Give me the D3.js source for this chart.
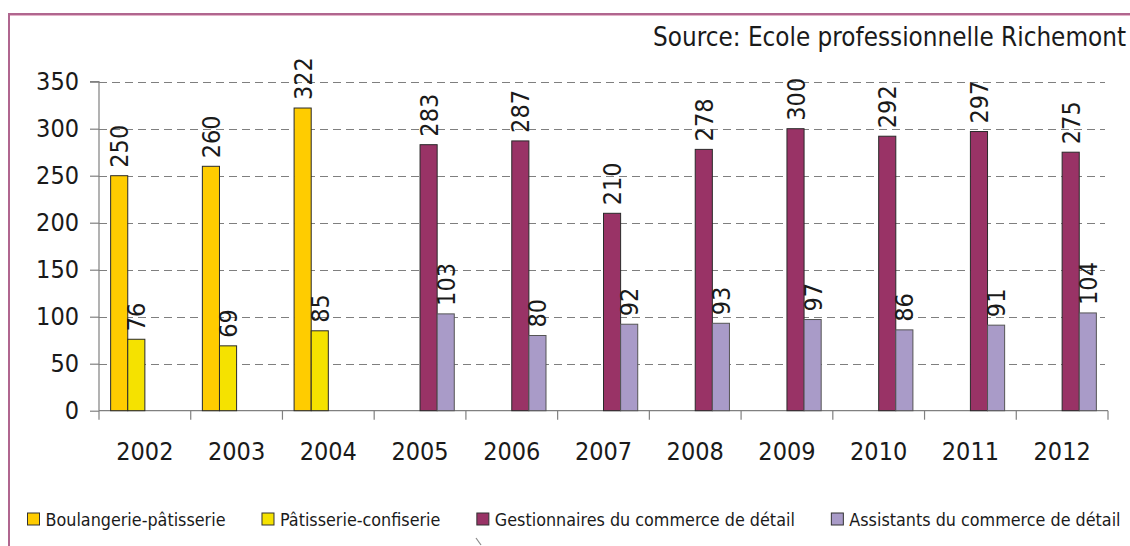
<!DOCTYPE html>
<html>
<head>
<meta charset="utf-8">
<script src="https://cdn.jsdelivr.net/npm/d3@7/dist/d3.min.js"></script>
<style>
  html, body { margin: 0; padding: 0; background: #fff; }
  svg { display: block; }
  text { font-family: "DejaVu Sans Condensed", "DejaVu Sans", sans-serif; font-stretch: condensed; fill: #1a1a1a; }
</style>
</head>
<body>
<svg id="chart" width="1130" height="546"></svg>
<script>
const years = ["2002","2003","2004","2005","2006","2007","2008","2009","2010","2011","2012"];
const seriesNames = ["Boulangerie-pâtisserie","Pâtisserie-confiserie","Gestionnaires du commerce de détail","Assistants du commerce de détail"];
const boulangerie   = [250, 260, 322, null, null, null, null, null, null, null, null];
const patisserie    = [76, 69, 85, null, null, null, null, null, null, null, null];
const gestionnaires = [null, null, null, 283, 287, 210, 278, 300, 292, 297, 275];
const assistants    = [null, null, null, 103, 80, 92, 93, 97, 86, 91, 104];
const yTicks = [0, 50, 100, 150, 200, 250, 300, 350];
const colors = ["#FFCC00", "#F5E200", "#993366", "#A99BC8"];
const sourceText = "Source: Ecole professionnelle Richemont";

const seriesValues = [boulangerie, patisserie, gestionnaires, assistants];

const svg = d3.select("#chart");

// frame
svg.append("rect").attr("x", 9).attr("y", 14).attr("width", 1400).attr("height", 800)
  .attr("fill", "none").attr("stroke", "#b0668f").attr("stroke-width", 2);
svg.append("line").attr("x1", 10).attr("x2", 1130).attr("y1", 15.5).attr("y2", 15.5)
  .attr("stroke", "#e3b3c8").attr("stroke-width", 1);

const plot = { left: 99, right: 1108, top: 81.7, bottom: 410.7 };

const x0 = d3.scaleBand().domain(years).range([plot.left, plot.right]).padding(0);
const x1 = d3.scaleBand().domain(d3.range(4)).range([0, x0.bandwidth()]).paddingInner(0).paddingOuter(0.68);
const y = d3.scaleLinear().domain([0, 350]).range([plot.bottom, plot.top]);

// gridlines
svg.append("g")
  .selectAll("line").data(yTicks.filter(t => t > 0)).join("line")
  .attr("x1", plot.left).attr("x2", plot.right - 3)
  .attr("y1", d => Math.round(y(d)) + 0.5).attr("y2", d => Math.round(y(d)) + 0.5)
  .attr("stroke", "#7f7f7f").attr("stroke-width", 1.2).attr("stroke-dasharray", "8,5");

// y axis
const yAxis = d3.axisLeft(y).tickValues(yTicks).tickSize(9).tickPadding(11).tickFormat(d3.format("d"));
const gy = svg.append("g").attr("transform", `translate(${plot.left},0)`).call(yAxis);
gy.select(".domain").attr("stroke", "#808080").attr("stroke-width", 1.2).attr("d", `M-9,${y(350)}H0V${y(0)}`);
gy.selectAll(".tick line").attr("stroke", "#808080").attr("stroke-width", 1.2);
gy.selectAll(".tick text").attr("font-size", 25).attr("fill", "#1a1a1a")
  .style("font-family", '"DejaVu Sans Condensed", "DejaVu Sans", sans-serif');

// x axis
const xTickPos = years.map(yv => x0(yv)).concat([plot.right]);
const gx = svg.append("g");
gx.append("line").attr("x1", plot.left).attr("x2", plot.right).attr("y1", plot.bottom).attr("y2", plot.bottom)
  .attr("stroke", "#808080").attr("stroke-width", 1.2);
gx.selectAll("line.tk").data(xTickPos).join("line").attr("class", "tk")
  .attr("x1", d => d).attr("x2", d => d).attr("y1", plot.bottom).attr("y2", plot.bottom + 9)
  .attr("stroke", "#808080").attr("stroke-width", 1.2);
gx.selectAll("text").data(years).join("text")
  .attr("x", d => x0(d) + x0.bandwidth() / 2).attr("y", 460)
  .attr("text-anchor", "middle").attr("font-size", 25).text(d => d);

// bars
const barData = [];
seriesValues.forEach((vals, si) => {
  vals.forEach((v, i) => { if (v != null) barData.push({ year: years[i], s: si, v }); });
});
svg.append("g").selectAll("rect").data(barData).join("rect")
  .attr("x", d => x0(d.year) + x1(d.s))
  .attr("y", d => y(d.v))
  .attr("width", x1.bandwidth())
  .attr("height", d => y(0) - y(d.v))
  .attr("fill", d => colors[d.s])
  .attr("stroke", d => d.s === 3 ? "#555" : "#2a2a2a").attr("stroke-width", 1);

// value labels
svg.append("g").selectAll("text").data(barData).join("text")
  .attr("transform", d => `translate(${x0(d.year) + x1(d.s) + x1.bandwidth() / 2},${y(d.v) - 8}) rotate(-90)`)
  .attr("dy", "0.36em").attr("font-size", 25).text(d => d.v);

// source
svg.append("text").attr("x", 1126).attr("y", 46).attr("text-anchor", "end")
  .attr("font-size", 25.8).text(sourceText);

// legend
const legend = svg.append("g");
let lx = 27;
seriesNames.forEach((name, i) => {
  const g = legend.append("g").attr("transform", `translate(${lx},0)`);
  g.append("rect").attr("x", 0.5).attr("y", 513).attr("width", 12).attr("height", 12)
    .attr("fill", colors[i]).attr("stroke", "#333").attr("stroke-width", 1);
  const t = g.append("text").attr("x", 18.5).attr("y", 526).attr("font-size", 17.8).text(name);
  lx += 18.5 + t.node().getComputedTextLength() + 36;
});

// small mark near bottom
svg.append("path").attr("d", "M476,538 L481,545").attr("stroke", "#888").attr("stroke-width", 1.2);
</script>
</body>
</html>
